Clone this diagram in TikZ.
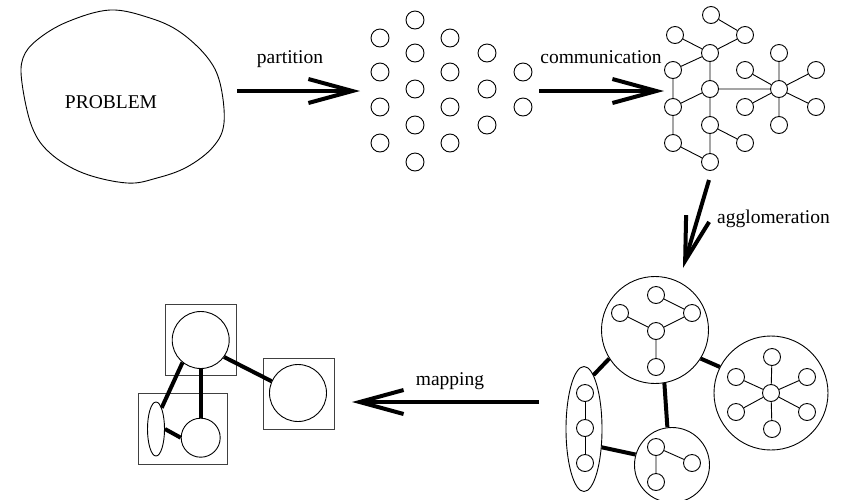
\documentclass[tikz,border=0pt]{standalone}
\usepackage{fontspec}
\setmainfont{Liberation Serif}
\usetikzlibrary{arrows.meta,shapes.geometric}
\begin{document}
\begin{tikzpicture}[x=1pt,y=-1pt,
  every node/.style={font=\fontsize{19.5}{23}\selectfont},
  dot/.style={circle,draw,line width=0.9pt,minimum size=18pt,inner sep=0pt},
  sn/.style={circle,draw,line width=0.9pt,minimum size=17pt,inner sep=0pt},
  thinln/.style={line width=0.9pt},
  thickln/.style={line width=4pt},
  bigarrow/.style={line width=4pt,-{Straight Barb[length=44pt,width=24pt]}},
  lbl/.style={anchor=base,inner sep=0pt},
  boxn/.style={draw=black!75,line width=1pt,inner sep=0pt,rectangle},
  bigc/.style={circle,draw,line width=0.9pt,inner sep=0pt},
]
\useasboundingbox (0,0) rectangle (843,499);

% ---- PROBLEM blob
\draw[line width=0.9pt] plot[smooth cycle,tension=0.6] coordinates {
  (110,10) (150,18) (180,32) (207,57) (220,83) (224,123) (213,147) (187,167)
  (157,178) (127,183) (83,173) (50,153) (32,127) (22,83) (23,58) (37,40) (67,22)};
\node[lbl] (problem) at (111,108) {PROBLEM};

% ---- partition arrow
\coordinate (pa1) at (237,91);
\coordinate (pa2) at (360,91);
\draw[bigarrow] (pa1) -- (pa2);
\node[lbl] (partition) at (290,63) {partition};

% ---- dots
\foreach \x/\y [count=\i] in {380/38,380/72,380/107,380/143,
  415/20,415/53,415/89,415/125,415/162,
  450/38,450/72,450/107,450/143,
  487/53,487/89,487/125,
  523/72,523/107}
  \node[dot] (d\i) at (\x,\y) {};

% ---- communication arrow
\coordinate (ca1) at (539,91);
\coordinate (ca2) at (664,91);
\draw[bigarrow] (ca1) -- (ca2);
\node[lbl] (communication) at (601,63) {communication};

% ---- communication graph
\node[sn] (ga) at (711,15) {};
\node[sn] (gb) at (745,35) {};
\node[sn] (gc) at (675,35) {};
\node[sn] (gd) at (710,53) {};
\node[sn] (ge) at (673,70) {};
\node[sn] (gf) at (710,89) {};
\node[sn] (gg) at (673,107) {};
\node[sn] (gh) at (710,125) {};
\node[sn] (gi) at (745,143) {};
\node[sn] (gj) at (673,143) {};
\node[sn] (gk) at (710,162) {};
\node[sn] (gs) at (779,89) {};
\node[sn] (gs1) at (779,53) {};
\node[sn] (gs2) at (779,125) {};
\node[sn] (gs3) at (745,70) {};
\node[sn] (gs4) at (745,107) {};
\node[sn] (gs5) at (816,70) {};
\node[sn] (gs6) at (816,107) {};
\draw[thinln] (ga)--(gb) (gb)--(gd) (gc)--(gd) (ge)--(gd) (gd)--(gf) (gf)--(gh)
  (gh)--(gk) (ge)--(gg) (gg)--(gj) (gj)--(gk) (gg)--(gf) (gh)--(gi) (gf)--(gs)
  (gs)--(gs1) (gs)--(gs2) (gs)--(gs3) (gs)--(gs4) (gs)--(gs5) (gs)--(gs6);

% ---- agglomeration arrow
\coordinate (aa1) at (709,180);
\coordinate (aa2) at (683,268);
\draw[bigarrow] (aa1) -- (aa2);
\node[anchor=base west,inner sep=0pt] (agglomeration) at (717,223) {agglomeration};

% ---- agglomerated tasks
\node[bigc,minimum size=107pt] (c1) at (655,330) {};
\node[sn] (c1t) at (656,295) {};
\node[sn] (c1l) at (620,313) {};
\node[sn] (c1r) at (692,313) {};
\node[sn] (c1c) at (656,331) {};
\node[sn] (c1b) at (656,367) {};
\draw[thinln] (c1t)--(c1r) (c1l)--(c1c) (c1r)--(c1c) (c1c)--(c1b);

\node[bigc,minimum size=114pt] (c2) at (771,393) {};
\node[sn] (c2c) at (771,393) {};
\node[sn] (c2t) at (772,357) {};
\node[sn] (c2b) at (772,429) {};
\node[sn] (c2ul) at (736,377) {};
\node[sn] (c2ll) at (736,412) {};
\node[sn] (c2ur) at (807,377) {};
\node[sn] (c2lr) at (807,412) {};
\draw[thinln] (c2c)--(c2t) (c2c)--(c2b) (c2c)--(c2ul) (c2c)--(c2ll) (c2c)--(c2ur) (c2c)--(c2lr);

\node[ellipse,draw,line width=0.9pt,inner sep=0pt,minimum width=36pt,minimum height=125pt] (el) at (584,429) {};
\node[sn] (e1) at (585,393) {};
\node[sn] (e2) at (585,428) {};
\node[sn] (e3) at (585,463) {};
\draw[thinln] (e1)--(e2) (e2)--(e3);

\node[bigc,minimum size=75pt] (c3) at (672,465) {};
\node[sn] (c3t) at (656,447) {};
\node[sn] (c3r) at (692,463) {};
\node[sn] (c3b) at (656,482) {};
\draw[thinln] (c3t)--(c3r) (c3t)--(c3b);

\draw[thickln] (c1.212) -- (el.80);
\draw[thickln] (c1.-32) -- (c2.153);
\draw[thickln] (c1.-80) -- (c3.97);
\draw[thickln] (el.-46) -- (c3.164);

% ---- mapping arrow
\coordinate (ma1) at (539,402);
\coordinate (ma2) at (352,402);
\draw[bigarrow] (ma1) -- (ma2);
\node[lbl] (mapping) at (450,385) {mapping};

% ---- mapped processors
\node[boxn,minimum width=71pt,minimum height=71pt] (s1) at (200.5,339.5) {};
\node[boxn,minimum width=71pt,minimum height=71pt] (s2) at (298.5,393.5) {};
\node[boxn,minimum width=89pt,minimum height=71pt] (s3) at (182.5,428.5) {};
\node[bigc,minimum size=57pt] (m1) at (200.7,340) {};
\node[bigc,minimum size=57pt] (m2) at (298,393) {};
\node[ellipse,draw,line width=0.9pt,inner sep=0pt,minimum width=17pt,minimum height=54pt] (mel) at (156,429) {};
\node[bigc,minimum size=39pt] (m3) at (200.7,437.7) {};
\draw[thickln] (m1.231) -- (mel.75);
\draw[thickln] (m1.south) -- (m3.north);
\draw[thickln] (m1.-36) -- (m2.156);
\draw[thickln] (mel.east) -- (m3.west);
\end{tikzpicture}
\end{document}
